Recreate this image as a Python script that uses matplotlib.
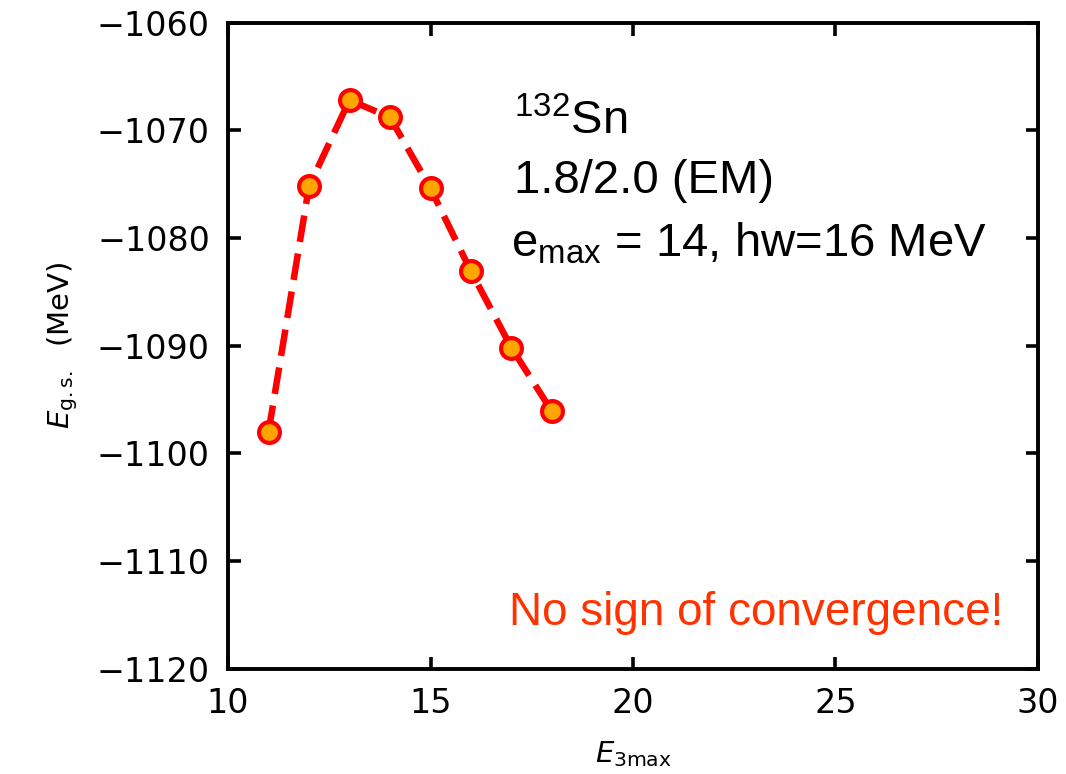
import matplotlib
matplotlib.use("Agg")
import matplotlib.pyplot as plt

# ground state energy vs E3max, 132Sn
e3max = [11, 12, 13, 14, 15, 16, 17, 18]
e_gs = [-1098.0, -1075.2, -1067.2, -1068.8, -1075.4, -1083.1, -1090.2, -1096.1]

xticks = [10, 15, 20, 25, 30]
yticks = [-1120, -1110, -1100, -1090, -1080, -1070, -1060]

plt.rcParams['mathtext.rm'] = 'Liberation Sans'
plt.rcParams['mathtext.it'] = 'Liberation Sans:italic'
plt.rcParams['mathtext.bf'] = 'Liberation Sans:bold'

fig = plt.figure(figsize=(10.66, 7.74), dpi=100)
ax = fig.add_axes([0.2139, 0.1357, 0.7598, 0.8352])

ax.plot(e3max, e_gs, color='#FF0000', lw=4.7, dashes=(4.1, 1.8),
        marker='o', markersize=15, markerfacecolor='#FFA500',
        markeredgecolor='#FF0000', markeredgewidth=3)

ax.set_xlim(10, 30)
ax.set_ylim(-1120, -1060)
ax.set_xticks(xticks)
ax.set_yticks(yticks)
ax.tick_params(direction='in', length=9, width=2.6, labelsize=24, pad=13,
               top=True, right=True)
for s in ax.spines.values():
    s.set_linewidth(2.8)

ax.set_xlabel(r'$E_{\rm 3max}$', fontsize=21, labelpad=14)
ax.set_ylabel(r'$E_{\rm g.s.}$  (MeV)', fontsize=21, labelpad=12)

tk = dict(transform=ax.transAxes, family='Liberation Sans', fontsize=34,
          va='baseline', ha='left', math_fontfamily='custom')
ax.text(0.353, 0.827, r'$^{132}$Sn', **tk)
ax.text(0.353, 0.736, '1.8/2.0 (EM)', **tk)
ax.text(0.350, 0.638, r'e$_{\rm max}$ = 14, hw=16 MeV', **tk)
ax.text(0.957, 0.068, 'No sign of convergence!', transform=ax.transAxes,
        family='Liberation Sans', fontsize=33, color='#FF3300',
        va='baseline', ha='right')

fig.savefig('out.png', dpi=100)
